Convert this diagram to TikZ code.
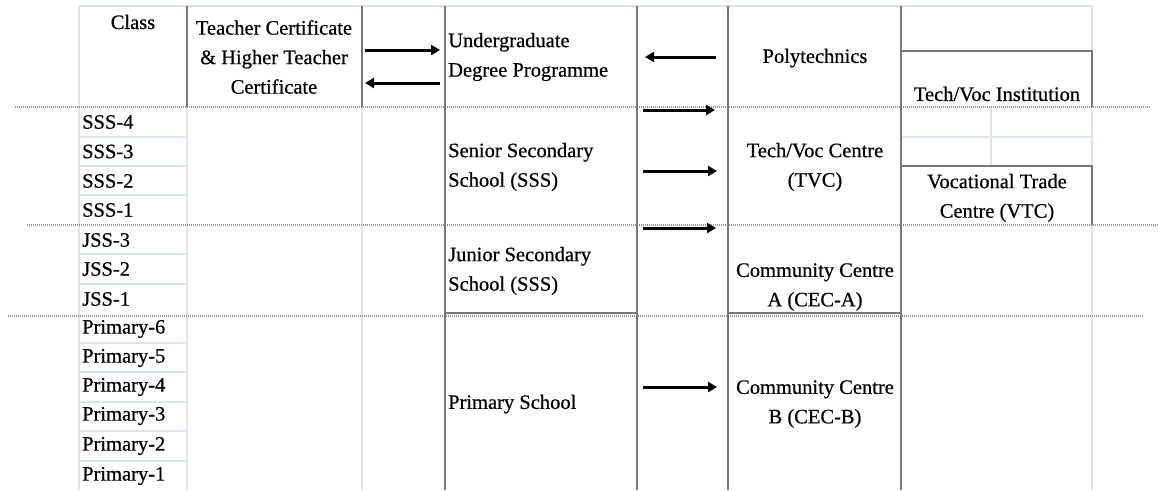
\documentclass[tikz,border=0pt]{standalone}
\usepackage{fontspec}
\setmainfont{Liberation Serif}[FakeBold=0.6]
\usetikzlibrary{arrows.meta}
\definecolor{darkline}{HTML}{777777}
\definecolor{lightgrid}{HTML}{DCE4EF}
\definecolor{dotline}{HTML}{959595}
\begin{document}
\begin{tikzpicture}[x=1pt,y=-1pt,
  dark/.style={draw=darkline,line width=2.3pt},
  light/.style={draw=lightgrid,line width=1.5pt},
  sep/.style={draw=dotline,line width=2.8pt,dash pattern=on 1.2pt off 0.8pt},
  lbl/.style={font=\fontsize{20.5}{29.5}\selectfont,inner sep=0pt,text=black},
  lblc/.style={lbl,align=center},
  lbll/.style={lbl,align=left,anchor=west},
  arr/.style={draw=black,line width=3pt,-{Triangle[length=9pt,width=10pt]}}
]
\useasboundingbox (0,0) rectangle (1158,490);
% light grid
\draw[light] (79,6) -- (1092,6);
\draw[light] (79,6) -- (79,490);
\draw[light] (187,107) -- (187,490);
\draw[light] (362,107) -- (362,490);
\foreach \yy in {137,166,195,254,284,343,372,402,431,461}
  \draw[light] (79,\yy) -- (187,\yy);
\draw[light] (1092,6) -- (1092,51);
\draw[light] (1092,107) -- (1092,166);
\draw[light] (1092,225) -- (1092,490);
\draw[light] (991,107) -- (991,166);
\draw[light] (901,137) -- (1092,137);
% dotted separators
\draw[sep] (15,107) -- (1150,107);
\draw[sep] (27,225) -- (1158,225);
\draw[sep] (8,316) -- (1143,316);
% dark borders
\draw[dark] (187,6) -- (187,107);
\draw[dark] (362,6) -- (362,107);
\draw[dark] (445,6) -- (445,490);
\draw[dark] (637,6) -- (637,490);
\draw[dark] (728,6) -- (728,490);
\draw[dark] (901,6) -- (901,490);
\draw[dark] (901,51) -- (1092,51) -- (1092,107);
\draw[dark] (901,166) -- (1092,166) -- (1092,225);
\draw[dark] (445,313) -- (637,313);
\draw[dark] (728,313) -- (901,313);
% texts
\node[lblc] (cls) at (133,22) {Class};
\node[lblc] (tc) at (274,57) {Teacher Certificate\\\& Higher Teacher\\Certificate};
\node[lbll] (ug) at (448,57) {Undergraduate\\Degree Programme};
\node[lblc] (poly) at (815,58) {Polytechnics};
\node[lblc] (tvi) at (997,94) {Tech/Voc Institution};
\node[lbll] (sss) at (448,167) {Senior Secondary\\School (SSS)};
\node[lblc] (tvc) at (815,167) {Tech/Voc Centre\\(TVC)};
\node[lblc] (vtc) at (997,198) {Vocational Trade\\Centre (VTC)};
\node[lbll] (jss) at (448,271) {Junior Secondary\\School (SSS)};
\node[lblc] (ceca) at (815,287) {Community Centre\\A (CEC-A)};
\node[lbll] (ps) at (448,404) {Primary School};
\node[lblc] (cecb) at (815,404) {Community Centre\\B (CEC-B)};
\foreach \t/\yy [count=\i] in {SSS-4/122,SSS-3/151.5,SSS-2/181,SSS-1/210,JSS-3/240,JSS-2/269,JSS-1/299,Primary-6/329,Primary-5/358,Primary-4/387,Primary-3/416,Primary-2/446,Primary-1/476}
  \node[lbll] (c\i) at (82,\yy) {\t};
% arrow end points
\coordinate (a1s) at (365,50);  \coordinate (a1e) at (440,50);
\coordinate (a2s) at (440,83);  \coordinate (a2e) at (365,83);
\coordinate (a3s) at (716,57);  \coordinate (a3e) at (645,57);
\coordinate (a4s) at (643,110); \coordinate (a4e) at (715,110);
\coordinate (a5s) at (643,171); \coordinate (a5e) at (717,171);
\coordinate (a6s) at (643,228); \coordinate (a6e) at (716,228);
\coordinate (a7s) at (643,387); \coordinate (a7e) at (717,387);
\draw[arr] (a1s) -- (a1e);
\draw[arr] (a2s) -- (a2e);
\draw[arr] (a3s) -- (a3e);
\draw[arr] (a4s) -- (a4e);
\draw[arr] (a5s) -- (a5e);
\draw[arr] (a6s) -- (a6e);
\draw[arr] (a7s) -- (a7e);
\end{tikzpicture}
\end{document}
